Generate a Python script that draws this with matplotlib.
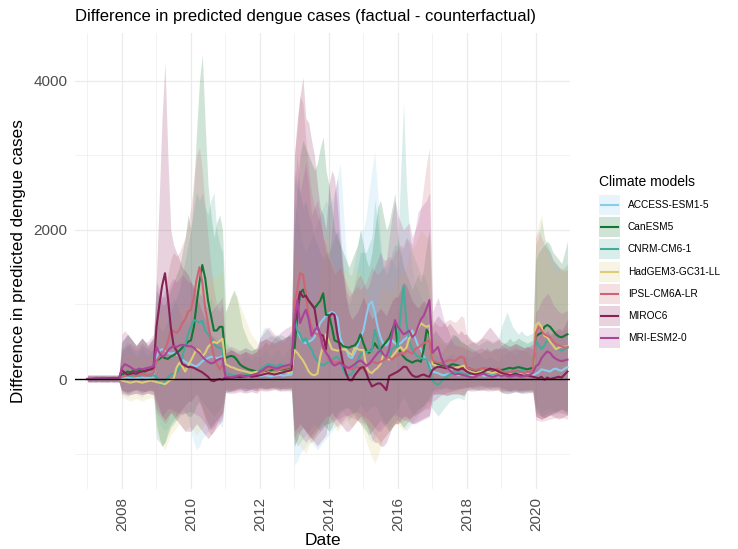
import numpy as np
import pandas as pd
import matplotlib
matplotlib.use("Agg")
import matplotlib.pyplot as plt
import matplotlib.dates as mdates
from matplotlib.patches import Rectangle
from matplotlib.lines import Line2D

plt.rcParams["font.family"] = ["Liberation Sans", "DejaVu Sans"]

# monthly dates, Jan 2007 - Dec 2020
dates = pd.date_range("2007-01-01", periods=168, freq="MS")

models = ["ACCESS-ESM1-5", "CanESM5", "CNRM-CM6-1", "HadGEM3-GC31-LL",
          "IPSL-CM6A-LR", "MIROC6", "MRI-ESM2-0"]
colors = ["#88CCEE", "#117733", "#44AA99", "#DDCC77",
          "#CC6677", "#882255", "#AA4499"]

# ---- ACCESS-ESM1-5
acc_mid = [
    0, 0, 5, 5, 5, 5, 5, 5, 5, 5, 5, 5,
    10, 15, 20, 10, 5, 10, 15, 20, 10, 15, 20, 25,
    300, 380, 400, 380, 350, 340, 350, 330, 300, 260, 230, 210,
    200, 180, 170, 200, 240, 260, 280, 300, 290, 280, 290, 300,
    30, 25, 20, 25, 30, 35, 40, 30, 25, 30, 35, 40,
    40, 45, 50, 40, 35, 45, 50, 55, 45, 50, 55, 60,
    800, 650, 560, 500, 480, 500, 520, 560, 650, 750, 800, 850,
    880, 900, 880, 820, 550, 450, 400, 300, 280, 350, 450, 560,
    650, 850, 1000, 1040, 900, 700, 560, 470, 450, 500, 520, 480,
    460, 480, 520, 550, 600, 650, 550, 450, 400, 300, 250, 200,
    100, 90, 80, 60, 50, 60, 70, 80, 60, 50, 60, 70,
    50, 40, 50, 60, 70, 60, 40, 50, 60, 50, 40, 30,
    50, 60, 70, 80, 70, 60, 80, 90, 80, 70, 60, 50,
    70, 90, 130, 120, 110, 100, 130, 140, 120, 110, 140, 160]
acc_hi = [
    30, 35, 40, 45, 40, 35, 40, 45, 40, 35, 40, 45,
    350, 400, 450, 400, 350, 300, 350, 400, 350, 300, 350, 400,
    1000, 1200, 1300, 1200, 1100, 1000, 1100, 1000, 900, 800, 800, 750,
    800, 900, 1000, 1100, 1200, 1100, 1000, 1100, 1000, 900, 950, 1000,
    300, 350, 400, 350, 300, 250, 300, 350, 300, 250, 300, 300,
    300, 350, 400, 350, 300, 350, 400, 350, 300, 350, 400, 450,
    2400, 2200, 2000, 1800, 1700, 1800, 1900, 2000, 2100, 2200, 2300, 2400,
    2300, 2400, 2500, 2700, 2900, 2300, 1700, 1400, 1400, 1600, 1800, 2000,
    2000, 2200, 2500, 2800, 3050, 2500, 1900, 1500, 1500, 1600, 1600, 1500,
    1500, 1700, 1800, 1900, 1800, 1500, 1300, 1200, 1100, 1000, 800, 700,
    400, 380, 350, 300, 280, 300, 320, 350, 300, 280, 300, 320,
    300, 280, 300, 320, 350, 300, 250, 280, 300, 280, 250, 220,
    300, 320, 350, 380, 350, 320, 380, 400, 380, 350, 320, 300,
    500, 550, 650, 600, 550, 500, 600, 650, 600, 550, 650, 700]
acc_lo = [
    -30, -35, -40, -35, -30, -35, -40, -35, -30, -35, -40, -35,
    -200, -220, -250, -200, -180, -200, -220, -250, -200, -180, -200, -220,
    -500, -600, -650, -700, -650, -600, -550, -500, -450, -400, -450, -500,
    -700, -850, -950, -900, -800, -750, -700, -650, -600, -550, -600, -650,
    -150, -180, -170, -150, -130, -120, -150, -170, -150, -120, -130, -150,
    -120, -130, -150, -120, -110, -130, -150, -170, -130, -150, -170, -180,
    -1150, -1100, -1000, -950, -900, -850, -850, -900, -950, -900, -850, -800,
    -750, -700, -650, -600, -550, -450, -400, -380, -400, -450, -500, -550,
    -600, -700, -800, -850, -800, -700, -650, -600, -600, -650, -600, -550,
    -550, -600, -650, -700, -650, -600, -550, -500, -450, -400, -350, -300,
    -180, -170, -150, -140, -120, -130, -150, -160, -140, -120, -130, -140,
    -120, -110, -120, -130, -140, -130, -110, -120, -130, -120, -110, -100,
    -120, -130, -150, -170, -160, -140, -170, -180, -170, -160, -140, -130,
    -350, -400, -450, -420, -400, -380, -420, -450, -420, -400, -450, -500]

# ---- CanESM5
can_mid = [
    0, 0, 3, 5, 5, 5, 5, 5, 5, 5, 5, 5,
    60, 80, 100, 90, 110, 100, 120, 110, 100, 120, 130, 140,
    250, 270, 300, 280, 270, 300, 320, 350, 380, 420, 450, 500,
    520, 700, 1000, 1300, 1530, 1350, 1050, 850, 650, 650, 700, 700,
    280, 300, 310, 300, 260, 200, 170, 150, 130, 120, 110, 100,
    90, 100, 110, 100, 120, 130, 140, 130, 120, 140, 150, 160,
    400, 850, 1150, 1200, 1100, 1050, 1000, 950, 1000, 1050, 1150, 860,
    860, 700, 520, 500, 480, 440, 430, 420, 440, 450, 500, 600,
    480, 380, 350, 400, 480, 420, 400, 450, 500, 550, 650, 750,
    430, 350, 300, 260, 240, 220, 240, 250, 230, 400, 660, 600,
    210, 220, 200, 180, 170, 160, 180, 200, 190, 180, 170, 160,
    150, 140, 120, 110, 100, 100, 110, 120, 100, 110, 120, 110,
    120, 130, 140, 150, 140, 150, 160, 150, 140, 130, 140, 150,
    570, 600, 620, 700, 725, 700, 650, 600, 570, 560, 580, 600]
can_hi = [
    40, 35, 40, 45, 40, 45, 40, 35, 40, 45, 40, 45,
    500, 550, 600, 550, 500, 450, 500, 550, 500, 450, 500, 550,
    1200, 1100, 1000, 1000, 1100, 1200, 1300, 1400, 1500, 1700, 1900, 2200,
    2000, 2600, 3300, 4000, 4350, 3400, 2600, 2200, 1900, 2100, 2200, 2000,
    900, 1000, 1100, 1200, 1100, 900, 700, 600, 500, 450, 400, 400,
    400, 450, 500, 450, 500, 550, 600, 550, 500, 550, 600, 650,
    2000, 2600, 3000, 3200, 3100, 3000, 2900, 2800, 2900, 3100, 3250, 2800,
    2600, 2300, 2000, 1900, 1800, 1700, 1600, 1500, 1600, 1700, 1800, 2000,
    1800, 1600, 1500, 1700, 2000, 2300, 2400, 2200, 2000, 2100, 2300, 2500,
    1900, 1700, 1500, 1400, 1300, 1200, 1300, 1400, 1300, 1500, 1800, 2000,
    600, 650, 600, 550, 500, 480, 520, 600, 580, 550, 500, 480,
    450, 420, 400, 380, 350, 350, 380, 420, 380, 400, 420, 400,
    450, 480, 500, 550, 500, 520, 550, 520, 500, 480, 500, 520,
    1600, 1700, 1750, 1800, 1850, 1800, 1700, 1650, 1600, 1550, 1700, 1850]
can_lo = [
    -30, -35, -30, -35, -30, -35, -30, -35, -30, -35, -30, -35,
    -150, -180, -200, -180, -160, -150, -170, -190, -170, -150, -160, -180,
    -600, -800, -900, -850, -750, -650, -600, -550, -500, -450, -450, -500,
    -500, -450, -350, -300, -400, -500, -600, -650, -600, -550, -500, -450,
    -180, -170, -160, -140, -130, -120, -120, -130, -140, -140, -130, -120,
    -110, -120, -130, -120, -110, -120, -130, -140, -130, -120, -130, -140,
    -900, -800, -700, -650, -700, -750, -800, -750, -700, -650, -600, -650,
    -700, -650, -550, -500, -450, -400, -380, -400, -450, -500, -550, -600,
    -650, -700, -750, -700, -650, -600, -550, -600, -650, -700, -650, -600,
    -550, -600, -650, -600, -550, -500, -450, -400, -380, -360, -300, -250,
    -150, -140, -130, -130, -120, -110, -130, -140, -130, -130, -120, -110,
    -110, -100, -100, -90, -80, -80, -90, -100, -90, -100, -100, -100,
    -120, -130, -140, -160, -140, -150, -160, -150, -140, -140, -140, -150,
    -400, -450, -500, -520, -500, -480, -460, -440, -420, -400, -420, -450]

# ---- CNRM-CM6-1
cnr_mid = [
    0, 0, 2, 3, 4, 5, 5, 5, 5, 5, 5, 5,
    30, 40, 50, 40, 50, 60, 40, 50, 60, 50, 40, 50,
    30, -50, -80, -30, 20, 60, 70, 80, 150, 300, 450, 600,
    700, 790, 780, 760, 780, 650, 600, 540, 480, 430, 420, 400,
    80, 70, 60, 50, 40, 50, 60, 70, 60, 50, 60, 70,
    120, 150, 180, 200, 190, 180, 170, 200, 180, 170, 180, 170,
    840, 650, 600, 500, 550, 450, 400, 300, 250, 200, 180, 210,
    230, 250, 280, 300, 250, 120, 50, 50, 70, 150, 250, 330,
    360, 360, 380, 370, 660, 530, 360, 300, 270, 300, 400, 430,
    430, 900, 1250, 750, 500, 400, 340, 300, 280, 270, 260, 150,
    -20, -60, -80, -40, 0, 30, 60, 80, 100, 90, 80, 70,
    60, 70, 80, 70, 60, 70, 80, 90, 80, 70, 80, 90,
    80, 90, 100, 90, 80, 90, 100, 110, 100, 90, 100, 110,
    520, 450, 400, 450, 520, 500, 450, 420, 400, 380, 400, 420]
cnr_hi = [
    40, 45, 40, 35, 40, 45, 40, 35, 40, 45, 40, 35,
    400, 450, 500, 450, 400, 380, 400, 450, 420, 400, 380, 400,
    800, 700, 650, 700, 800, 900, 1000, 1100, 1200, 1400, 1600, 1800,
    2000, 2300, 2500, 2400, 2500, 2300, 2200, 2400, 2500, 2000, 1800, 1700,
    500, 450, 400, 380, 350, 380, 400, 420, 400, 380, 400, 420,
    550, 650, 700, 650, 600, 580, 550, 600, 580, 560, 580, 560,
    2800, 2600, 2500, 2300, 2400, 2200, 2100, 1900, 1800, 1700, 1600, 1700,
    1700, 1800, 1900, 2000, 1800, 1400, 1100, 1000, 1100, 1300, 1500, 1700,
    1700, 1700, 1800, 1900, 2400, 2100, 1700, 1500, 1400, 1500, 1700, 1800,
    1800, 2800, 3700, 2600, 2000, 1700, 1600, 1500, 1400, 1400, 1300, 1100,
    400, 350, 300, 350, 400, 450, 500, 550, 600, 550, 500, 480,
    450, 480, 500, 480, 450, 480, 500, 520, 500, 480, 500, 520,
    700, 800, 900, 800, 700, 650, 600, 650, 600, 580, 600, 620,
    1800, 1900, 2140, 1900, 1800, 1700, 1600, 1550, 1500, 1450, 1500, 1550]
cnr_lo = [
    -30, -30, -35, -35, -30, -30, -35, -35, -30, -30, -35, -35,
    -150, -170, -190, -170, -150, -140, -160, -180, -160, -150, -140, -160,
    -800, -850, -900, -850, -700, -600, -550, -500, -450, -400, -350, -300,
    -300, -250, -200, -250, -300, -350, -400, -450, -500, -450, -400, -350,
    -120, -130, -140, -130, -120, -110, -120, -130, -130, -120, -110, -120,
    -90, -100, -110, -120, -110, -110, -100, -110, -110, -100, -110, -100,
    -800, -900, -850, -800, -750, -700, -650, -600, -650, -700, -650, -600,
    -600, -550, -500, -450, -400, -450, -500, -550, -500, -450, -400, -350,
    -400, -450, -400, -380, -350, -400, -500, -550, -600, -550, -500, -450,
    -400, -300, -250, -300, -400, -450, -500, -450, -400, -350, -300, -300,
    -400, -450, -500, -450, -400, -350, -300, -280, -260, -250, -260, -280,
    -150, -140, -140, -140, -150, -140, -140, -130, -140, -140, -140, -130,
    -180, -190, -200, -190, -180, -170, -180, -190, -180, -170, -180, -190,
    -450, -480, -500, -480, -460, -450, -440, -430, -420, -410, -420, -430]

# ---- HadGEM3-GC31-LL
had_mid = [
    0, 0, 2, 3, 5, 5, 5, 5, 5, 5, 5, 5,
    -20, -30, -40, -50, -40, -30, -40, -50, -40, -30, -20, -30,
    -40, -50, -60, -70, -40, -10, 0, 150, 220, 170, 100, 180,
    250, 330, 400, 380, 300, 350, 430, 470, 500, 480, 510, 540,
    200, 180, 160, 150, 130, 120, 110, 100, 90, 80, 90, 100,
    60, 70, 80, 90, 80, 70, 80, 90, 100, 90, 80, 100,
    390, 350, 300, 250, 180, 100, 60, 50, 70, 300, 450, 600,
    500, 400, 390, 380, 390, 400, 390, 350, 320, 420, 400, 390,
    390, 160, 100, 80, 120, 150, 200, 330, 300, 260, 300, 350,
    400, 430, 380, 420, 550, 580, 620, 680, 750, 720, 700, 720,
    200, 180, 170, 160, 150, 140, 130, 140, 150, 160, 170, 180,
    110, 100, 90, 80, 90, 100, 110, 100, 90, 80, 90, 100,
    60, 50, 60, 70, 60, 50, 60, 70, 80, 70, 60, 70,
    725, 760, 700, 580, 560, 500, 450, 400, 420, 440, 430, 440]
had_hi = [
    40, 40, 45, 45, 40, 40, 45, 45, 40, 40, 45, 45,
    300, 320, 350, 320, 300, 280, 300, 320, 300, 280, 300, 320,
    700, 800, 900, 800, 700, 750, 800, 900, 1000, 950, 900, 1000,
    1100, 1200, 1300, 1250, 1200, 1250, 1300, 1350, 1400, 1350, 1400, 1450,
    900, 1000, 1100, 1150, 1100, 1000, 900, 800, 700, 600, 550, 500,
    400, 420, 450, 480, 450, 420, 440, 460, 480, 460, 440, 460,
    1800, 1700, 1600, 1500, 1300, 1100, 1000, 1000, 1100, 1500, 1800, 2000,
    1800, 1600, 1500, 1450, 1450, 1500, 1450, 1400, 1350, 1500, 1450, 1400,
    1400, 1100, 900, 800, 800, 900, 1200, 1300, 1200, 1150, 1200, 1300,
    1400, 1450, 1400, 1500, 1700, 1750, 1800, 1900, 2000, 1950, 1900, 1950,
    550, 520, 500, 480, 460, 450, 440, 450, 460, 480, 500, 520,
    400, 380, 360, 340, 360, 380, 400, 380, 360, 340, 360, 380,
    350, 330, 350, 370, 350, 330, 350, 370, 380, 370, 350, 370,
    1900, 2100, 2200, 1900, 1700, 1600, 1500, 1400, 1450, 1500, 1480, 1500]
had_lo = [
    -30, -30, -35, -35, -30, -30, -35, -35, -30, -30, -35, -35,
    -250, -260, -280, -300, -280, -260, -280, -300, -280, -260, -250, -260,
    -700, -800, -900, -950, -850, -750, -700, -650, -600, -650, -700, -650,
    -650, -700, -750, -700, -650, -600, -550, -500, -500, -520, -500, -480,
    -120, -130, -140, -140, -130, -130, -120, -110, -110, -100, -110, -110,
    -150, -140, -140, -140, -150, -140, -140, -140, -150, -140, -140, -140,
    -800, -850, -900, -950, -1000, -900, -850, -800, -700, -600, -550, -500,
    -550, -600, -650, -700, -650, -600, -550, -600, -650, -600, -550, -600,
    -700, -850, -950, -1050, -1130, -1050, -900, -800, -750, -700, -650, -600,
    -600, -650, -700, -650, -600, -550, -500, -450, -420, -400, -380, -360,
    -180, -170, -170, -160, -170, -170, -180, -170, -170, -160, -170, -170,
    -120, -110, -110, -110, -120, -130, -120, -110, -110, -110, -120, -130,
    -150, -140, -150, -160, -150, -140, -150, -160, -160, -160, -150, -160,
    -450, -480, -500, -480, -460, -450, -440, -430, -440, -450, -440, -450]

# ---- IPSL-CM6A-LR
ips_mid = [
    0, 0, 2, 3, 5, 5, 5, 5, 5, 5, 5, 5,
    30, 40, 50, 60, 50, 40, 60, 70, 60, 50, 60, 80,
    250, 300, 350, 400, 500, 660, 640, 620, 660, 750, 800, 900,
    930, 1100, 1330, 1500, 1300, 950, 750, 500, 300, 200, 130, 200,
    50, 40, 30, 35, 40, 45, 50, 40, 35, 40, 50, 60,
    80, 100, 120, 130, 150, 140, 120, 130, 140, 150, 160, 150,
    1020, 1200, 1420, 1400, 1150, 840, 700, 620, 600, 560, 400, 380,
    260, 250, 220, 230, 240, 210, 170, 140, 130, 150, 160, 130,
    150, 170, 200, 240, 220, 210, 230, 250, 280, 290, 260, 300,
    320, 350, 330, 380, 360, 340, 400, 420, 450, 480, 500, 520,
    250, 230, 220, 210, 230, 240, 260, 250, 240, 280, 300, 280,
    150, 140, 130, 120, 130, 140, 150, 140, 130, 120, 130, 140,
    100, 90, 80, 90, 100, 110, 100, 90, 80, 90, 100, 120,
    620, 700, 650, 600, 580, 560, 500, 470, 450, 440, 420, 430]
ips_hi = [
    40, 45, 40, 45, 40, 45, 40, 45, 40, 45, 40, 45,
    400, 420, 450, 480, 450, 420, 450, 480, 450, 420, 450, 480,
    900, 1000, 1100, 1200, 1400, 1600, 1700, 1650, 1700, 1800, 1900, 2100,
    2300, 2700, 3000, 3100, 2800, 2300, 1900, 1500, 1200, 1000, 900, 1000,
    350, 380, 400, 380, 350, 330, 350, 370, 350, 330, 350, 370,
    500, 520, 540, 560, 580, 560, 540, 520, 540, 560, 580, 560,
    3000, 3400, 3800, 3700, 3200, 2800, 2500, 2300, 2200, 2100, 1900, 1800,
    1600, 1500, 1400, 1450, 1500, 1400, 1300, 1200, 1150, 1200, 1250, 1200,
    1250, 1300, 1400, 1500, 1450, 1400, 1450, 1500, 1600, 1650, 1600, 1700,
    1750, 1800, 1750, 1900, 1850, 1800, 2000, 2100, 2300, 2600, 2900, 3100,
    800, 750, 720, 700, 750, 780, 800, 780, 760, 800, 850, 820,
    550, 530, 510, 500, 520, 540, 550, 540, 520, 500, 520, 540,
    450, 430, 420, 430, 450, 470, 450, 430, 420, 430, 450, 480,
    1900, 2000, 1900, 1800, 1750, 1700, 1600, 1550, 1500, 1480, 1450, 1470]
ips_lo = [
    -30, -35, -30, -35, -30, -35, -30, -35, -30, -35, -30, -35,
    -180, -190, -200, -210, -200, -190, -200, -210, -200, -190, -200, -210,
    -450, -500, -550, -600, -550, -450, -450, -500, -450, -400, -350, -300,
    -300, -250, -200, -300, -400, -550, -700, -750, -700, -600, -500, -450,
    -150, -160, -160, -160, -150, -140, -150, -160, -150, -140, -150, -160,
    -120, -130, -130, -140, -130, -130, -120, -130, -130, -140, -130, -130,
    -900, -800, -700, -650, -700, -800, -850, -800, -750, -700, -650, -600,
    -600, -580, -560, -540, -520, -500, -480, -500, -520, -540, -560, -580,
    -600, -620, -650, -700, -750, -800, -850, -800, -750, -700, -650, -600,
    -600, -580, -560, -540, -520, -500, -480, -460, -440, -420, -400, -400,
    -210, -200, -200, -200, -210, -220, -210, -200, -200, -200, -210, -220,
    -150, -140, -140, -140, -150, -160, -150, -140, -140, -140, -150, -160,
    -170, -160, -160, -160, -170, -170, -170, -160, -160, -160, -170, -170,
    -550, -560, -570, -560, -550, -540, -530, -520, -510, -520, -530, -540]

# ---- MIROC6
mir_mid = [
    0, 0, 3, 5, 5, 8, 8, 10, 10, 10, 10, 10,
    120, 80, 60, 70, 80, 70, 90, 100, 110, 120, 130, 150,
    700, 1000, 1250, 1420, 1100, 700, 450, 380, 300, 200, 180, 160,
    160, 150, 130, 110, 90, 60, 30, -20, -30, -10, 0, -10,
    20, 10, 15, 20, 30, 25, 30, 35, 40, 30, 35, 40,
    50, 60, 70, 80, 70, 60, 70, 80, 90, 100, 110, 120,
    720, 1000, 1170, 1100, 1120, 1050, 1000, 950, 700, 600, 580, 400,
    830, 880, 860, 600, 400, 200, 80, -15, -20, 50, 100, 150,
    160, 80, -20, -100, -80, -60, -60, -100, -150, 40, 60, 80,
    100, 130, 165, 160, 100, 50, 30, 30, 50, 60, 40, 30,
    120, 150, 165, 160, 150, 140, 160, 150, 130, 120, 140, 130,
    100, 80, 70, 60, 70, 80, 100, 120, 140, 130, 120, 100,
    80, 70, 60, 50, 60, 70, 60, 50, 40, 50, 40, 30,
    20, 10, 30, -10, 20, 0, 10, 20, 30, 20, 60, 100]
mir_hi = [
    50, 55, 50, 55, 50, 55, 50, 55, 50, 55, 50, 55,
    500, 550, 600, 550, 500, 450, 500, 550, 500, 450, 500, 550,
    1400, 2500, 3500, 4250, 3000, 2000, 1800, 1700, 1600, 1500, 1450, 1400,
    1300, 1200, 1100, 1000, 900, 800, 700, 600, 550, 500, 500, 480,
    350, 370, 390, 370, 350, 330, 350, 370, 350, 330, 350, 370,
    500, 520, 540, 520, 500, 480, 500, 520, 540, 560, 580, 600,
    3000, 3500, 3800, 4050, 3500, 3440, 3200, 3000, 2600, 2300, 2200, 2000,
    2600, 2800, 2700, 2300, 1800, 1400, 1100, 900, 800, 850, 900, 1000,
    1100, 1000, 900, 800, 850, 900, 950, 900, 850, 950, 1050, 1100,
    1100, 1200, 1300, 1250, 1150, 1050, 1000, 950, 1000, 1050, 1000, 950,
    700, 800, 850, 800, 750, 700, 750, 700, 650, 600, 650, 600,
    600, 550, 500, 480, 500, 550, 600, 650, 700, 650, 600, 550,
    500, 480, 460, 440, 460, 480, 460, 440, 420, 440, 420, 400,
    700, 650, 700, 600, 650, 600, 620, 650, 680, 650, 720, 800]
mir_lo = [
    -40, -45, -40, -45, -40, -45, -40, -45, -40, -45, -40, -45,
    -150, -160, -170, -160, -150, -140, -150, -160, -170, -160, -150, -160,
    -300, -400, -500, -550, -500, -450, -500, -550, -600, -650, -700, -700,
    -700, -650, -600, -650, -700, -750, -800, -750, -700, -650, -600, -550,
    -180, -190, -190, -190, -180, -170, -180, -190, -180, -170, -180, -190,
    -150, -160, -160, -160, -150, -140, -150, -160, -160, -160, -150, -160,
    -700, -650, -600, -650, -700, -750, -800, -850, -900, -850, -800, -750,
    -500, -450, -500, -550, -600, -650, -700, -700, -650, -600, -550, -500,
    -550, -600, -700, -800, -850, -850, -900, -900, -850, -750, -650, -600,
    -600, -550, -500, -500, -550, -600, -600, -580, -560, -540, -520, -500,
    -210, -200, -200, -200, -210, -220, -210, -200, -200, -200, -210, -220,
    -150, -160, -160, -160, -150, -140, -150, -160, -160, -160, -150, -140,
    -180, -190, -190, -190, -180, -170, -180, -190, -190, -190, -180, -170,
    -500, -520, -540, -520, -500, -480, -500, -520, -540, -520, -500, -480]

# ---- MRI-ESM2-0
mri_mid = [
    0, 0, 3, 5, 5, 5, 5, 5, 5, 5, 5, 5,
    150, 200, 180, 160, 130, 120, 140, 130, 140, 150, 160, 170,
    430, 350, 300, 320, 380, 420, 440, 430, 450, 460, 450, 440,
    440, 420, 380, 350, 300, 260, 230, 210, 220, 250, 270, 280,
    30, 25, 20, 30, 40, 50, 40, 30, 40, 50, 60, 70,
    100, 120, 150, 170, 160, 150, 140, 160, 170, 180, 190, 200,
    790, 1060, 750, 850, 930, 800, 580, 650, 700, 600, 430, 350,
    300, 210, 180, 200, 220, 180, 160, 150, 170, 200, 230, 250,
    220, 180, 200, 250, 300, 350, 390, 330, 300, 400, 600, 790,
    700, 650, 600, 620, 650, 560, 600, 700, 800, 850, 950, 1060,
    350, 390, 430, 300, 200, 160, 120, 80, 60, 70, 60, 50,
    40, 30, 20, 30, 50, 60, 70, 50, 40, 30, 40, 50,
    40, 50, 40, 30, 40, 50, 40, 30, 40, 50, 60, 80,
    170, 200, 280, 330, 370, 350, 300, 270, 250, 240, 250, 260]
mri_hi = [
    60, 55, 60, 55, 60, 55, 60, 55, 60, 55, 60, 55,
    600, 650, 600, 550, 500, 450, 500, 550, 500, 500, 550, 600,
    1300, 1200, 1100, 1100, 1200, 1300, 1350, 1300, 1350, 1400, 1350, 1300,
    1300, 1250, 1200, 1150, 1100, 1000, 950, 900, 950, 1000, 1050, 1100,
    400, 420, 440, 420, 400, 380, 400, 420, 400, 380, 400, 420,
    550, 600, 650, 700, 650, 600, 580, 620, 650, 680, 700, 720,
    2600, 3000, 2500, 2700, 2900, 2600, 2200, 2300, 2400, 2200, 1900, 1700,
    1600, 2000, 2500, 2700, 2000, 1500, 1200, 1100, 1150, 1250, 1350, 1400,
    1300, 1200, 1250, 1400, 1500, 1600, 1700, 1600, 1600, 1900, 2200, 2400,
    2200, 2100, 2000, 2050, 2100, 1900, 2000, 2240, 2300, 2350, 2400, 2500,
    900, 1000, 1100, 950, 800, 700, 600, 500, 450, 450, 430, 420,
    400, 380, 360, 380, 400, 420, 400, 380, 360, 380, 400, 420,
    400, 420, 400, 380, 400, 420, 400, 380, 400, 420, 440, 460,
    900, 950, 1050, 1100, 1150, 1100, 1000, 950, 900, 880, 900, 920]
mri_lo = [
    -40, -45, -40, -45, -40, -45, -40, -45, -40, -45, -40, -45,
    -200, -210, -220, -210, -200, -190, -200, -210, -200, -190, -200, -210,
    -400, -450, -500, -450, -400, -400, -420, -440, -460, -480, -460, -440,
    -440, -460, -480, -500, -550, -600, -650, -680, -650, -600, -550, -500,
    -150, -160, -160, -160, -150, -140, -150, -160, -150, -140, -150, -160,
    -120, -130, -130, -130, -120, -110, -120, -130, -130, -130, -120, -110,
    -800, -700, -750, -800, -850, -800, -750, -700, -650, -600, -550, -500,
    -500, -550, -600, -650, -600, -550, -500, -480, -460, -440, -450, -470,
    -500, -520, -550, -600, -650, -700, -700, -650, -600, -550, -500, -480,
    -500, -520, -540, -560, -580, -600, -580, -560, -540, -520, -500, -480,
    -300, -280, -250, -220, -200, -180, -170, -160, -150, -140, -130, -120,
    -110, -110, -120, -110, -110, -100, -110, -110, -120, -110, -110, -100,
    -150, -160, -160, -160, -150, -140, -150, -160, -160, -160, -150, -140,
    -500, -520, -540, -520, -500, -480, -470, -460, -450, -460, -470, -480]

mids = [acc_mid, can_mid, cnr_mid, had_mid, ips_mid, mir_mid, mri_mid]
his = [acc_hi, can_hi, cnr_hi, had_hi, ips_hi, mir_hi, mri_hi]
los = [acc_lo, can_lo, cnr_lo, had_lo, ips_lo, mir_lo, mri_lo]

W, H = 738, 549
fig = plt.figure(figsize=(W / 100, H / 100), dpi=100)
ax = fig.add_axes([75 / W, 1 - 489 / H, 495 / W, 456 / H])

# ribbons first, then lines (ggplot layer order)
for lo, hi, col in zip(los, his, colors):
    ax.fill_between(dates, lo, hi, color=col, alpha=0.2, linewidth=0)
for mid, col in zip(mids, colors):
    ax.plot(dates, mid, color=col, linewidth=1.5)
ax.axhline(0, color="black", linewidth=1.0, zorder=5)

ax.set_xlim(pd.Timestamp("2006-08-22"), pd.Timestamp("2020-12-28"))
ax.set_ylim(-1476, 4643)

ax.xaxis.set_major_locator(mdates.YearLocator(2))
ax.xaxis.set_major_formatter(mdates.DateFormatter("%Y"))
ax.set_xticks([pd.Timestamp(f"{y}-01-01") for y in range(2007, 2021, 2)], minor=True)
ax.set_yticks([0, 2000, 4000])
ax.set_yticks([-1000, 1000, 3000], minor=True)

ax.grid(which="major", color="#EBEBEB", linewidth=0.9)
ax.grid(which="minor", color="#EBEBEB", linewidth=0.45)
ax.set_axisbelow(True)
for s in ax.spines.values():
    s.set_visible(False)
ax.tick_params(which="both", length=0)
ax.tick_params(axis="x", labelrotation=90, labelsize=11, labelcolor="#4D4D4D", pad=6)
ax.tick_params(axis="y", labelsize=11, labelcolor="#4D4D4D", pad=5.5)

ax.set_xlabel("Date", fontsize=12.5, labelpad=1)
ax.set_ylabel("Difference in predicted dengue cases", fontsize=12.3, labelpad=5)
ax.set_title("Difference in predicted dengue cases (factual - counterfactual)",
             loc="left", fontsize=12, pad=9)

# legend drawn by hand in pixel positions, ggplot style keys
fig.text(599 / W, 1 - 181.5 / H, "Climate models", fontsize=10, va="center", ha="left")
for i, (name, col) in enumerate(zip(models, colors)):
    yc = 205 + i * 22.2
    fig.patches.append(Rectangle((599 / W, 1 - (yc + 10) / H), 21 / W, 20 / H,
                                 transform=fig.transFigure, facecolor=col,
                                 alpha=0.2, linewidth=0))
    fig.lines.append(Line2D([601 / W, 618 / W], [1 - yc / H, 1 - yc / H],
                            transform=fig.transFigure, color=col, linewidth=1.5))
    fig.text(628 / W, 1 - yc / H, name, fontsize=7.3, va="center", ha="left")

fig.savefig("out.png", dpi=100)
